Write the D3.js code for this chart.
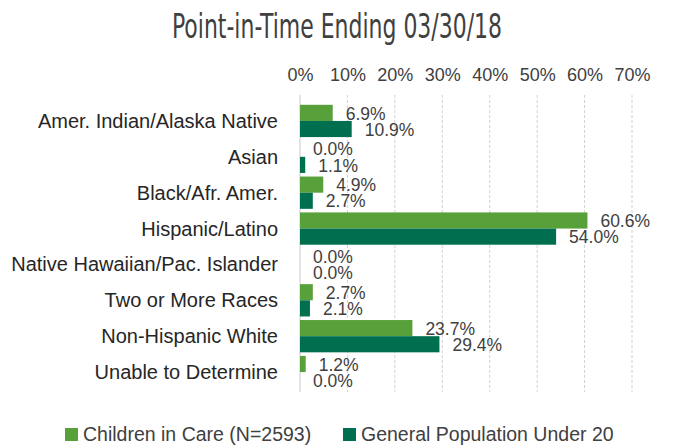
<!DOCTYPE html>
<html>
<head>
<meta charset="utf-8">
<script src="https://cdn.jsdelivr.net/npm/d3@7"></script>
<style>
  body { margin: 0; background: #fff; }
  text { font-family: "Liberation Sans", Arial, sans-serif; fill: #262626; }
</style>
</head>
<body>
<div id="chart"></div>
<script>
// chart data
const categories = [
  "Amer. Indian/Alaska Native",
  "Asian",
  "Black/Afr. Amer.",
  "Hispanic/Latino",
  "Native Hawaiian/Pac. Islander",
  "Two or More Races",
  "Non-Hispanic White",
  "Unable to Determine"
];
const childrenInCare = [6.9, 0.0, 4.9, 60.6, 0.0, 2.7, 23.7, 1.2];
const generalPopulation = [10.9, 1.1, 2.7, 54.0, 0.0, 2.1, 29.4, 0.0];
const seriesNames = ["Children in Care (N=2593)", "General Population Under 20"];
const xTicks = [0, 10, 20, 30, 40, 50, 60, 70];

const colors = ["#58A03A", "#006F50"];
const W = 673, H = 448;
const plot = { left: 300, right: 632, top: 103, bottom: 390 };

const svg = d3.select("#chart").append("svg")
  .attr("width", W)
  .attr("height", H);

// title
svg.append("text")
  .attr("x", 337)
  .attr("y", 38)
  .attr("text-anchor", "middle")
  .attr("textLength", 330)
  .attr("lengthAdjust", "spacingAndGlyphs")
  .style("font-family", "'Liberation Sans Narrow', 'DejaVu Sans Condensed', sans-serif")
  .style("font-size", "34px")
  .style("fill", "#404040")
  .text("Point-in-Time Ending 03/30/18");

const x = d3.scaleLinear().domain([0, 70]).range([plot.left, plot.right]);
const y = d3.scaleBand().domain(categories).range([plot.top, plot.bottom]).paddingInner(0.1).paddingOuter(0.05);
const y1 = d3.scaleBand().domain([0, 1]).range([0, y.bandwidth()]);

// grid lines
svg.append("g")
  .selectAll("line")
  .data(xTicks.slice(1))
  .enter()
  .append("line")
  .attr("x1", d => x(d))
  .attr("x2", d => x(d))
  .attr("y1", 95)
  .attr("y2", plot.bottom + 2)
  .attr("stroke", "#d0d0d0")
  .attr("stroke-dasharray", "3,2");

svg.append("line")
  .attr("x1", x(0)).attr("x2", x(0))
  .attr("y1", 95).attr("y2", plot.bottom + 2)
  .attr("stroke", "#c8c8c8");

// top axis labels
const xAxis = d3.axisTop(x).tickValues(xTicks).tickFormat(d => d + "%").tickSize(0).tickPadding(0);
const gx = svg.append("g")
  .attr("transform", "translate(0,81)")
  .call(xAxis);
gx.select(".domain").remove();
gx.selectAll("text")
  .style("font-size", "18px")
  .style("fill", "#404040")
  .style("font-family", "'Liberation Sans', Arial, sans-serif");

// category labels
svg.append("g")
  .selectAll("text")
  .data(categories)
  .enter()
  .append("text")
  .attr("x", 278)
  .attr("y", d => y(d) + y.bandwidth() / 2)
  .attr("dy", "0.35em")
  .attr("text-anchor", "end")
  .style("font-size", "20px")
  .text(d => d);

// bars
const series = [childrenInCare, generalPopulation];
series.forEach((vals, s) => {
  const g = svg.append("g");
  g.selectAll("rect")
    .data(vals)
    .enter()
    .append("rect")
    .attr("x", x(0))
    .attr("y", (d, i) => y(categories[i]) + y1(s))
    .attr("width", d => x(d) - x(0))
    .attr("height", y1.bandwidth())
    .attr("fill", colors[s]);

  g.selectAll("text")
    .data(vals)
    .enter()
    .append("text")
    .attr("x", d => x(d) + 13)
    .attr("y", (d, i) => y(categories[i]) + y1(s) + y1.bandwidth() / 2)
    .attr("dy", "0.38em")
    .style("font-size", "17.5px")
    .style("fill", "#404040")
    .text(d => d.toFixed(1) + "%");
});

// legend
const legend = svg.append("g").attr("transform", "translate(0,434)");
const legendX = [65, 343];
seriesNames.forEach((name, i) => {
  legend.append("rect")
    .attr("x", legendX[i])
    .attr("y", -6)
    .attr("width", 13)
    .attr("height", 13)
    .attr("fill", colors[i]);
  legend.append("text")
    .attr("x", legendX[i] + 18)
    .attr("y", 0)
    .attr("dy", "0.35em")
    .style("font-size", "19.5px")
    .style("fill", "#404040")
    .text(name);
});
</script>
</body>
</html>
